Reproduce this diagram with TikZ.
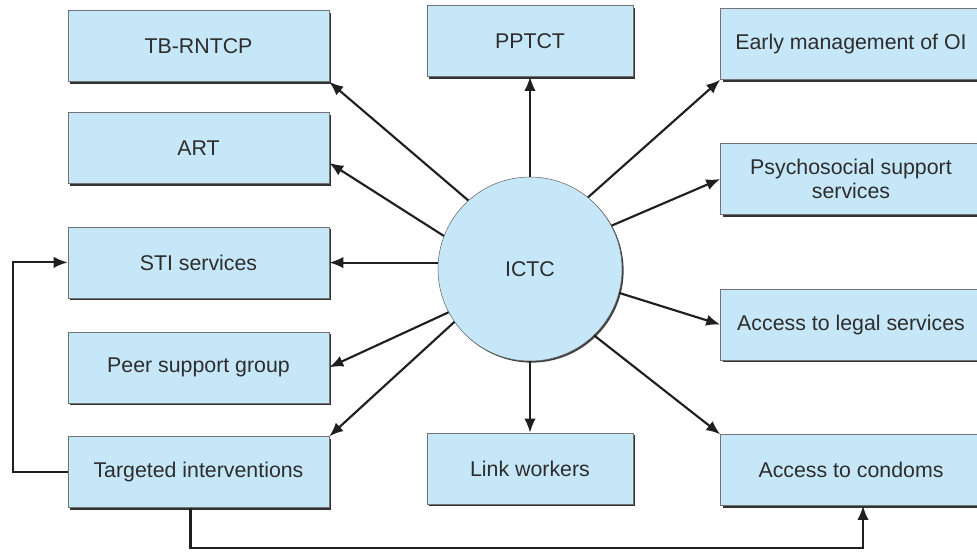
\documentclass[tikz,border=0pt]{standalone}
\usepackage{fontspec}
\setmainfont{Liberation Sans}
\usetikzlibrary{arrows.meta,positioning,shadows}
\definecolor{boxblue}{RGB}{198,231,248}
\definecolor{inktext}{RGB}{45,45,45}

\begin{document}
\begin{tikzpicture}[x=0.75pt,y=-0.75pt,font=\fontsize{16}{18.5}\selectfont,
  >={Latex[length=10.5pt,width=8.5pt]},
  box/.style={draw=black!55,fill=boxblue,text=inktext,align=center,
    minimum width=195.75pt,minimum height=53.25pt,inner sep=2pt,
    general shadow={fill=black!80,shadow xshift=1.8pt,shadow yshift=-1.8pt}},
  midbox/.style={box,minimum width=154.5pt},
  hub/.style={circle,draw=black!60,fill=boxblue,text=inktext,minimum size=138pt,
    general shadow={fill=black!75,shadow xshift=1.2pt,shadow yshift=-1.2pt}},
  link/.style={->,line width=1.6pt,draw=black!88}]
\useasboundingbox (0,0) rectangle (977,551);
\node[hub] (ictc) at (530,269) {ICTC};
% left column
\node[box] (tb) at (198.5,46) {TB-RNTCP};
\node[box,below=23pt of tb] (art) {ART};
\node[box,below=32pt of art] (sti) {STI services};
\node[box,below=25pt of sti] (peer) {Peer support group};
\node[box,below=25pt of peer] (tgt) {Targeted interventions};
% middle
\node[midbox] (pptct) at (530,41) {PPTCT};
\node[midbox] (lw) at (530,468.5) {Link workers};
% right column
\node[box] (oi) at (851,44) {Early management of OI};
\node[box,below=47.6pt of oi] (psy) {Psychosocial support\\services};
\node[box,below=55.5pt of psy] (legal) {Access to legal services};
\node[box,below=55.5pt of legal] (cond) {Access to condoms};
% spokes
\draw[link] (ictc.132) -- (tb.south east);
\draw[link] (ictc.159) -- ([yshift=-11pt]art.east);
\draw[link] (ictc.176) -- (ictc.176 -| sti.east);
\draw[link] (ictc.208) -- (peer.east);
\draw[link] (ictc.215) -- (tgt.north east);
\draw[link] (ictc) -- (pptct);
\draw[link] (ictc) -- (lw);
\draw[link] (ictc.51) -- (oi.south west);
\draw[link] (ictc.28) -- (psy.west);
\draw[link] (ictc.345) -- (legal.west);
\draw[link] (ictc.314) -- (cond.north west);
% feedback routes
\draw[link] (tgt.west) -- ++(-55,0) |- (sti.west);
\draw[link] ([xshift=-6pt]tgt.south) -- ++(0,40) -| ([xshift=9pt]cond.south);
\end{tikzpicture}
\end{document}
